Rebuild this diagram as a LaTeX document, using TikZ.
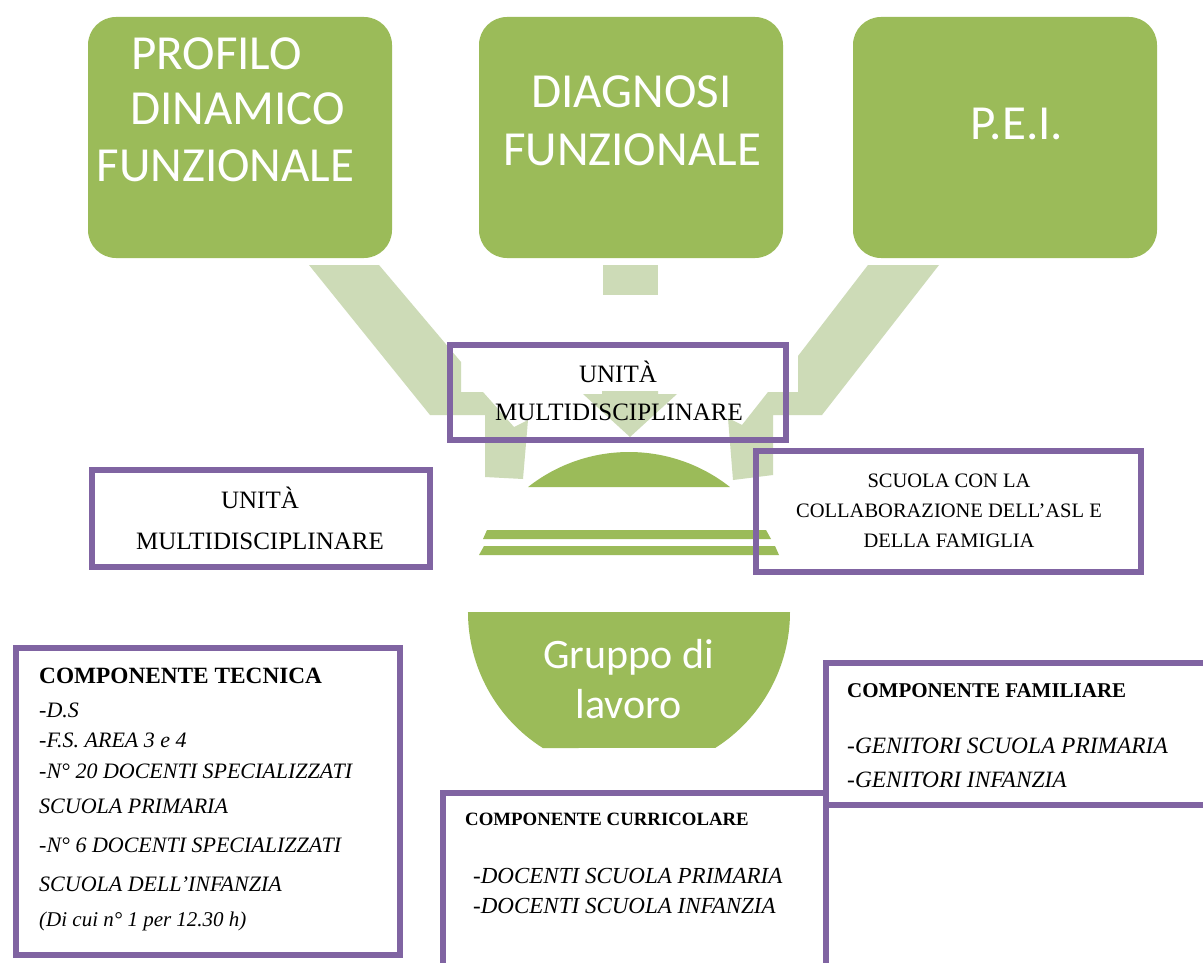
\documentclass[tikz,border=0pt]{standalone}
\usepackage{fontspec}
\setmainfont{Liberation Serif}
\newfontfamily\carlito{Carlito}
\definecolor{gr}{RGB}{155,187,89}
\definecolor{lgr}{RGB}{205,219,183}
\definecolor{pur}{RGB}{128,100,162}
\begin{document}
\begin{tikzpicture}[x=1pt,y=-1pt,
  gbox/.style={fill=gr, draw=none, rounded corners=28pt, inner sep=0pt, minimum width=304pt, minimum height=241pt},
  gtxt/.style={text=white, inner sep=0pt, anchor=base, font=\carlito\fontsize{49}{56}\selectfont},
  wtxt/.style={text=white, inner sep=0pt, anchor=base, font=\carlito\fontsize{42}{50}\selectfont},
  pbox/.style={draw=pur, line width=6pt, inner sep=0pt},
  stxt/.style={inner sep=0pt, anchor=base, font=\fontsize{25}{30}\selectfont},
  sctxt/.style={inner sep=0pt, anchor=base, font=\fontsize{20.5}{24}\selectfont},
  ltxt/.style={inner sep=0pt, anchor=base west, font=\itshape\fontsize{22}{26}\selectfont},
  ctxt/.style={inner sep=0pt, anchor=base west, font=\itshape\fontsize{23}{27}\selectfont},
  hdr/.style={inner sep=0pt, anchor=base west, font=\bfseries\fontsize{#1}{24}\selectfont}
]
\useasboundingbox (0,0) rectangle (1203,963);
\fill[white] (0,0) rectangle (1203,963);
\clip (0,0) rectangle (1203,963);

% light green converging arrows
\fill[lgr] (309,265) -- (379,265) -- (461,362) -- (461,392) -- (483,392) -- (514,427) -- (528,420)
  -- (523,479) -- (485,477) -- (485,415) -- (430,415) -- cycle;
\fill[lgr] (868,265) -- (939,265) -- (822,415) -- (773,415) -- (773,475) -- (733,480) -- (728,418)
  -- (742,425) -- (768,392) -- (798,392) -- (798,356) -- cycle;
\fill[lgr] (603,265) rectangle (658,295);
\fill[lgr] (602,391) -- (658,391) -- (658,394) -- (677,394) -- (630,437) -- (583,394) -- (602,394) -- cycle;

% top boxes
\node[gbox] (b1) at (240,137.5) {};
\node[gbox] (b2) at (631,137.5) {};
\node[gbox] (b3) at (1005,137.5) {};
\node[gtxt] (b1a) at (216.5,70) {PROFILO};
\node[gtxt] (b1b) at (237.5,125) {DINAMICO};
\node[gtxt] (b1c) at (225.5,182) {FUNZIONALE};
\node[gtxt] (b2a) at (631.5,108) {DIAGNOSI};
\node[gtxt] (b2b) at (632,166) {FUNZIONALE};
\node[gtxt] (b3a) at (1017,140) {P.E.I.};

% dome, stripes, bowl
\fill[gr] (528.1,487) arc[start angle=-128.25, end angle=-51.75, radius=163] -- cycle;
\fill[gr] (487,530) -- (766,530) -- (771,539) -- (483,539) -- cycle;
\fill[gr] (484,546) -- (775,546) -- (779,555) -- (479,555) -- cycle;
\fill[gr] (468,612) -- (790,612) arc[start angle=0, end angle=57.63, radius=161]
  -- (542.8,748) arc[start angle=122.37, end angle=180, radius=161] -- cycle;
\node[wtxt] (g1) at (628.5,668) {Gruppo di};
\node[wtxt] (g2) at (628.5,718) {lavoro};

% purple boxes
\node[pbox, minimum width=336pt, minimum height=95pt] (u1) at (618,392.5) {};
\node[stxt] (u1a) at (618,382) {UNITÀ};
\node[stxt] (u1b) at (619,420) {MULTIDISCIPLINARE};

\node[pbox, minimum width=338.5pt, minimum height=97pt] (u2) at (260.75,518.5) {};
\node[stxt] (u2a) at (260,508) {UNITÀ};
\node[stxt] (u2b) at (260,549) {MULTIDISCIPLINARE};

\node[pbox, minimum width=385pt, minimum height=121pt] (sc) at (948.5,511.5) {};
\node[sctxt] (sca) at (949,487) {SCUOLA CON LA};
\node[sctxt] (scb) at (949,517) {COLLABORAZIONE DELL’ASL E};
\node[sctxt] (scc) at (949,547) {DELLA FAMIGLIA};

\node[pbox, minimum width=384pt, minimum height=307pt] (ct) at (208,801.5) {};
\node[hdr=23.3] (cth) at (39,683) {COMPONENTE TECNICA};
\node[ltxt] (ct1) at (39,717) {-D.S};
\node[ltxt] (ct2) at (39,747) {-F.S. AREA 3 e 4};
\node[ltxt] (ct3) at (39,778) {-N° 20 DOCENTI SPECIALIZZATI};
\node[ltxt] (ct4) at (39,813) {SCUOLA PRIMARIA};
\node[ltxt] (ct5) at (39,852) {-N° 6 DOCENTI SPECIALIZZATI};
\node[ltxt] (ct6) at (39,891) {SCUOLA DELL’INFANZIA};
\node[ltxt, font=\itshape\fontsize{21}{25}\selectfont] (ct7) at (39,926) {(Di cui n° 1 per 12.30 h)};

\node[pbox, minimum width=383pt, minimum height=207pt] (cc) at (634.5,896.5) {};
\node[hdr=18.8] (cch) at (465,825) {COMPONENTE CURRICOLARE};
\node[ctxt] (cc1) at (473,883) {-DOCENTI SCUOLA PRIMARIA};
\node[ctxt] (cc2) at (473,913) {-DOCENTI SCUOLA INFANZIA};

\node[pbox, minimum width=424pt, minimum height=142pt] (cf) at (1038,734) {};
\node[hdr=21] (cfh) at (847,697) {COMPONENTE FAMILIARE};
\node[ctxt, font=\itshape\fontsize{23.4}{27}\selectfont] (cf1) at (847,753) {-GENITORI SCUOLA PRIMARIA};
\node[ctxt, font=\itshape\fontsize{23.4}{27}\selectfont] (cf2) at (847,787) {-GENITORI INFANZIA};
\end{tikzpicture}
\end{document}
